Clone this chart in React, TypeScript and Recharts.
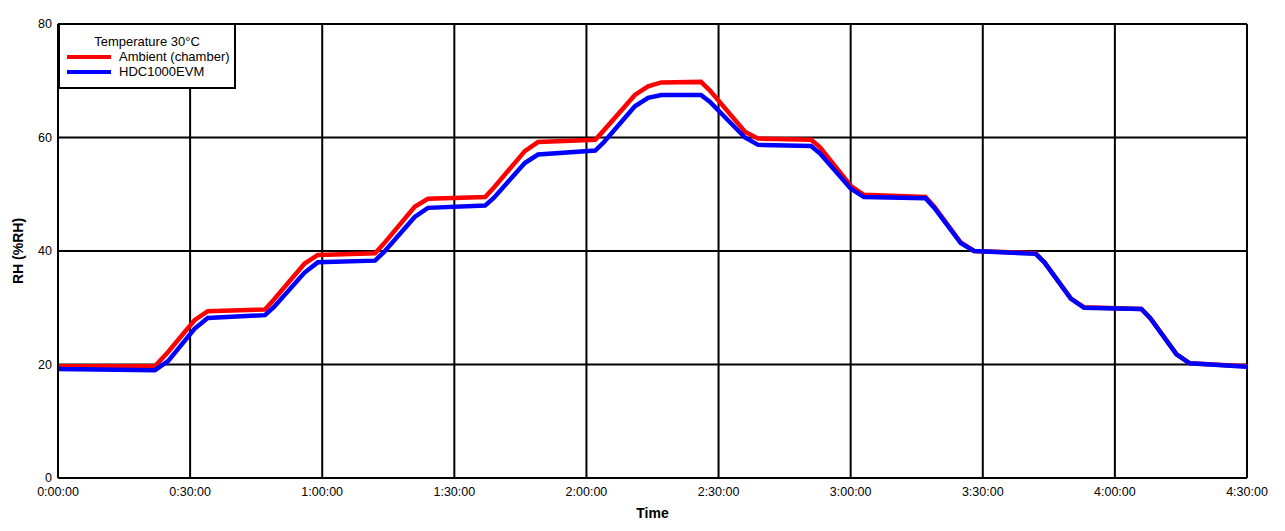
import { LineChart, Line, XAxis, YAxis, CartesianGrid, Label } from "recharts";

// time in minutes since start
const timeMin = [
  0, 22, 25, 31, 34, 47, 49, 56, 59, 72, 74, 81, 84, 97, 99, 106, 109, 122, 124, 131, 134, 137, 146, 148,
  156, 159, 171, 173, 180, 183, 197, 199, 205, 208, 222, 224, 230, 233, 246, 248, 254, 257, 270,
];

const ambientRH = [
  19.7, 19.7, 22.2, 27.8, 29.4, 29.7, 31.4, 37.8, 39.3, 39.6, 41.3, 47.8, 49.2, 49.5, 51.2, 57.6, 59.2,
  59.6, 61.3, 67.5, 69.0, 69.7, 69.8, 68.3, 61.0, 59.8, 59.6, 58.3, 51.5, 49.9, 49.5, 47.8, 41.5, 40.0,
  39.6, 38.0, 31.6, 30.1, 29.8, 28.2, 21.8, 20.2, 19.7,
];

const sensorRH = [
  19.2, 19.0, 20.6, 26.3, 28.2, 28.7, 30.1, 36.2, 38.0, 38.3, 39.8, 46.0, 47.6, 48.0, 49.4, 55.5, 57.0,
  57.7, 59.2, 65.5, 67.0, 67.5, 67.5, 66.3, 60.0, 58.7, 58.5, 57.2, 51.0, 49.5, 49.3, 47.6, 41.4, 40.0,
  39.5, 38.0, 31.6, 30.0, 29.8, 28.2, 21.8, 20.2, 19.6,
];

const xTicks = [0, 30, 60, 90, 120, 150, 180, 210, 240, 270];
const yTicks = [0, 20, 40, 60, 80];

const legendTitle = "Temperature 30°C";
const seriesNames = ["Ambient (chamber)", "HDC1000EVM"];
const seriesColors = ["#ff0000", "#0000ff"];

const data = timeMin.map((t, i) => ({ t, ambient: ambientRH[i], sensor: sensorRH[i] }));

const fmtTime = (m: number) => {
  const h = Math.floor(m / 60);
  const mm = m % 60;
  return `${h}:${String(mm).padStart(2, "0")}:00`;
};

const font = "'Liberation Sans', Arial, sans-serif";

const App = () => {
  return (
    <div style={{ position: "absolute", left: 0, top: 0, width: 1285, height: 531, background: "#fff", fontFamily: font }}>
      <LineChart width={1285} height={531} data={data} margin={{ top: 24, right: 38, bottom: 0, left: 0 }}>
        <CartesianGrid stroke="#000" strokeWidth={2} />
        <XAxis
          dataKey="t"
          type="number"
          domain={[0, 270]}
          ticks={xTicks}
          tickFormatter={fmtTime}
          height={53}
          axisLine={{ stroke: "#000", strokeWidth: 2 }}
          tickLine={false}
          tickSize={0}
          tickMargin={9}
          tick={{ fill: "#000", fontSize: 12.5, fontFamily: font }}
        >
          <Label
            content={({ viewBox }: any) => (
              <text
                x={viewBox.x + viewBox.width / 2}
                y={518}
                textAnchor="middle"
                fontWeight="bold"
                fontSize={14}
                fontFamily={font}
                fill="#000"
              >
                Time
              </text>
            )}
          />
        </XAxis>
        <YAxis
          type="number"
          domain={[0, 80]}
          ticks={yTicks}
          width={58}
          axisLine={{ stroke: "#000", strokeWidth: 2 }}
          tickLine={false}
          tickSize={0}
          tickMargin={6}
          tick={{ fill: "#000", fontSize: 12.5, fontFamily: font }}
        >
          <Label
            content={({ viewBox }: any) => {
              const cy = viewBox.y + viewBox.height / 2;
              return (
                <text
                  x={23}
                  y={cy}
                  transform={`rotate(-90, 23, ${cy})`}
                  textAnchor="middle"
                  fontWeight="bold"
                  fontSize={14}
                  fontFamily={font}
                  fill="#000"
                >
                  RH (%RH)
                </text>
              );
            }}
          />
        </YAxis>
        <Line
          dataKey="ambient"
          name={seriesNames[0]}
          stroke={seriesColors[0]}
          strokeWidth={4.5}
          dot={false}
          type="linear"
          isAnimationActive={false}
        />
        <Line
          dataKey="sensor"
          name={seriesNames[1]}
          stroke={seriesColors[1]}
          strokeWidth={4.5}
          dot={false}
          type="linear"
          isAnimationActive={false}
        />
      </LineChart>

      {/* Legend box */}
      <div
        style={{
          position: "absolute",
          left: 58,
          top: 23,
          width: 174,
          height: 62,
          border: "2px solid #000",
          background: "#fff",
          fontSize: 13,
          lineHeight: "15px",
          color: "#000",
        }}
      >
        <div style={{ position: "absolute", left: 0, right: 0, top: 9, textAlign: "center" }}>{legendTitle}</div>
        {seriesNames.map((name, i) => (
          <div key={name} style={{ position: "absolute", left: 7, top: 24 + i * 15, display: "flex", alignItems: "center" }}>
            <div style={{ width: 44, height: 4, background: seriesColors[i], marginRight: 8 }} />
            <span>{name}</span>
          </div>
        ))}
      </div>
    </div>
  );
};

export default App;
